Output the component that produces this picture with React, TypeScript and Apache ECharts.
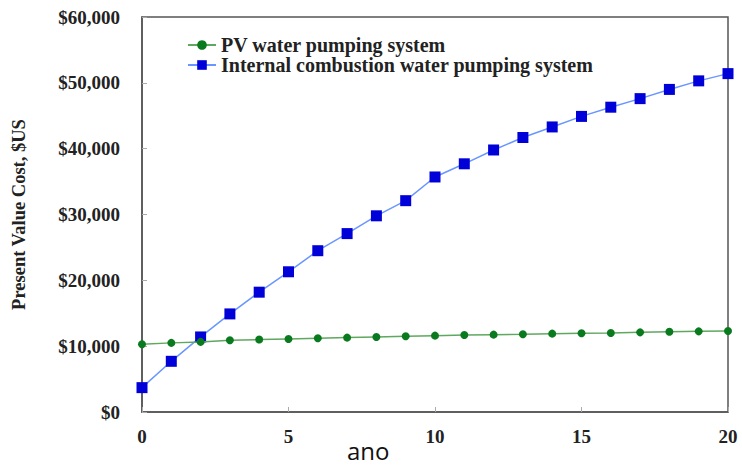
import React, { useEffect, useRef } from "react";
import * as echarts from "echarts";

const years = [0, 1, 2, 3, 4, 5, 6, 7, 8, 9, 10, 11, 12, 13, 14, 15, 16, 17, 18, 19, 20];
const pvCost = [10300, 10500, 10650, 10900, 11000, 11100, 11200, 11300, 11400, 11500, 11600, 11700, 11750, 11800, 11900, 11950, 12000, 12100, 12200, 12250, 12300];
const iceCost = [3700, 7700, 11400, 14900, 18200, 21300, 24500, 27100, 29800, 32100, 35700, 37700, 39800, 41700, 43300, 44900, 46300, 47600, 49000, 50300, 51400];
const seriesNames = ["PV water pumping system", "Internal combustion water pumping system"];
const yTitle = "Present Value Cost, $US";
const xTitle = "ano";

export default function App() {
  const ref = useRef<HTMLDivElement>(null);
  useEffect(() => {
    if (!ref.current) return;
    const chart = echarts.init(ref.current, null, { renderer: "svg" });
    const serif = "'Liberation Serif', 'Times New Roman', serif";
    chart.setOption({
      animation: false,
      backgroundColor: "#ffffff",
      grid: {
        left: 142,
        top: 17,
        right: 14,
        bottom: 54,
        show: true,
        borderColor: "#555",
        borderWidth: 1.5,
        backgroundColor: "transparent",
      },
      legend: {
        orient: "vertical",
        left: 182,
        top: 30,
        itemGap: 0,
        itemWidth: 28,
        itemHeight: 12,
        textStyle: { fontFamily: serif, fontWeight: "bold", fontSize: 20, lineHeight: 19, color: "#222" },
        data: seriesNames,
      },
      xAxis: {
        type: "value",
        min: 0,
        max: 20,
        interval: 5,
        axisLine: { show: true, lineStyle: { color: "#555", width: 1.5 } },
        axisTick: { show: true, inside: true, length: 5, lineStyle: { color: "#aaa" } },
        splitLine: { show: false },
        axisLabel: { fontFamily: serif, fontWeight: "bold", fontSize: 19, color: "#222", margin: 15 },
      },
      yAxis: {
        type: "value",
        min: 0,
        max: 60000,
        interval: 10000,
        name: yTitle,
        nameLocation: "middle",
        nameGap: 114,
        nameTextStyle: { fontFamily: serif, fontWeight: "bold", fontSize: 18.5, color: "#222" },
        axisLine: { show: true, lineStyle: { color: "#555", width: 1.5 } },
        axisTick: { show: true, inside: true, length: 5, lineStyle: { color: "#aaa" } },
        splitLine: { show: false },
        axisLabel: {
          fontFamily: serif,
          fontWeight: "bold",
          fontSize: 19,
          color: "#222",
          margin: 22,
          formatter: (v: number) => "$" + v.toLocaleString("en-US"),
        },
      },
      graphic: [
        {
          type: "text",
          x: 347,
          y: 450,
          style: {
            text: xTitle,
            font: "24px 'Open Sans', 'Liberation Sans', sans-serif",
            fill: "#111",
            verticalAlign: "middle",
          },
        },
      ],
      series: [
        {
          name: seriesNames[0],
          type: "line",
          data: years.map((y, i) => [y, pvCost[i]]),
          symbol: "circle",
          symbolSize: 8,
          itemStyle: { color: "#0a7a1e" },
          lineStyle: { color: "#5fa85f", width: 1.5 },
          z: 3,
        },
        {
          name: seriesNames[1],
          type: "line",
          data: years.map((y, i) => [y, iceCost[i]]),
          symbol: "rect",
          symbolSize: 11,
          itemStyle: { color: "#0000d8" },
          lineStyle: { color: "#6a96ff", width: 1.5 },
          z: 2,
        },
      ],
    });
    return () => chart.dispose();
  }, []);
  return <div ref={ref} style={{ width: 742, height: 466, position: "absolute", left: 0, top: 0 }} />;
}
